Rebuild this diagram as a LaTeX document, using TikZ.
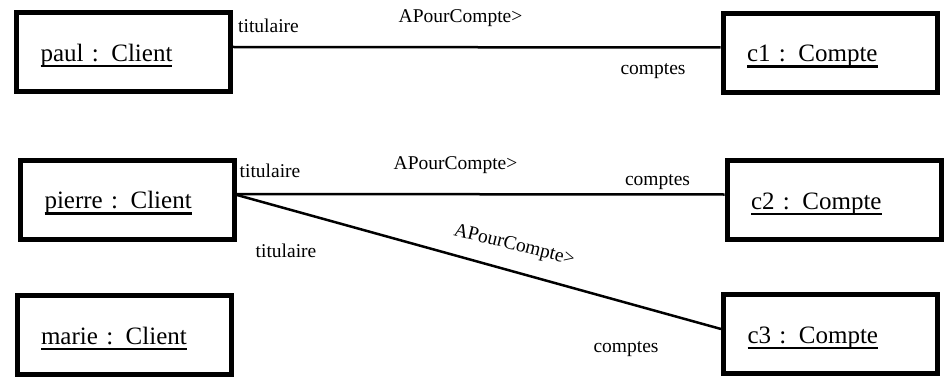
\documentclass[tikz,border=0pt]{standalone}
\usepackage{fontspec}
\setmainfont{Liberation Serif}
\newcommand{\souligne}[1]{\setbox0\hbox{#1}\rlap{\rule[-6pt]{\wd0}{2.5pt}}\box0}
\begin{document}
\begin{tikzpicture}[x=1pt,y=-1pt,
        objet/.style={draw, line width=5pt, minimum width=214pt, minimum height=79pt, inner xsep=24pt, text width=166pt, align=left, text height=23pt, text depth=5pt, font=\fontsize{25}{28}\selectfont},
        lien/.style={line width=2.5pt},
        etiq/.style={anchor=base, inner sep=0pt, font=\fontsize{19.5}{22}\selectfont}]
        \useasboundingbox (0,0) rectangle (944,377);
        \draw (123.5,52.5) node[objet] (paul) {\souligne{paul : Client}};
        \draw (127.5,199.5) node[objet] (pierre) {\souligne{pierre : Client}};
        \draw (124,335) node[objet] (marie) {\souligne{marie : Client}};
        \draw (830,53) node[objet] (c1) {\souligne{c1 : Compte}};
        \draw (834,200) node[objet] (c2) {\souligne{c2 : Compte}};
        \draw (830.5,334) node[objet] (c3) {\souligne{c3 : Compte}};
        \draw[lien] ([yshift=5.5pt]paul.east) -- ([yshift=5.5pt]c1.west);
        \draw[lien] ([yshift=5.5pt]pierre.east) -- ([yshift=5.5pt]c2.west);
        \draw[lien] ([yshift=4.5pt]pierre.east) -- ([yshift=5pt]c3.west);
        \draw (268.5,33) node[etiq] (tit1) {titulaire};
        \draw (460.5,23) node[etiq] (apc1) {APourCompte>};
        \draw (653,75) node[etiq] (cpt1) {comptes};
        \draw (270,177) node[etiq] (tit2) {titulaire};
        \draw (455.5,169) node[etiq] (apc2) {APourCompte>};
        \draw (657.5,185.5) node[etiq] (cpt2) {comptes};
        \draw (286,257) node[etiq] (tit3) {titulaire};
        \draw (513,250) node[etiq, rotate=-14] (apc3) {APourCompte>};
        \draw (626,352.5) node[etiq] (cpt3) {comptes};
    \end{tikzpicture}
\end{document}
